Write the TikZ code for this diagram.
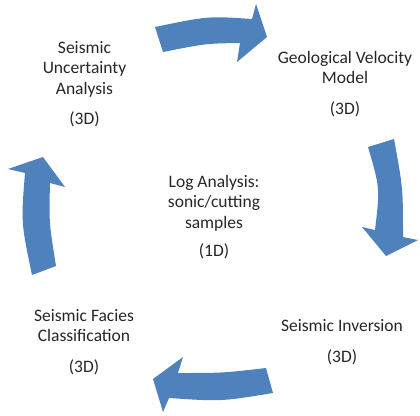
\documentclass[tikz,border=0pt]{standalone}
\usepackage{fontspec}
\setmainfont{Carlito}
\definecolor{cycleblue}{HTML}{4F81BD}
\definecolor{labelgray}{HTML}{262626}
\usepackage{tikz}

\begin{document}
\begin{tikzpicture}[x=1pt,y=-1pt,
  cyclearrow/.style={fill=cycleblue},
  stage/.style={align=center,text=labelgray,inner sep=0pt,
    font=\fontsize{17.5}{20.5}\selectfont}]
  \useasboundingbox (0,0) rectangle (420,415);

  % Arrows
  \fill[cyclearrow] (155,27) .. controls (208,16) .. (252,19) -- (256,4) -- (267,37)
    -- (237,62) -- (240,43) .. controls (206,43.5) .. (163,52) -- cycle;
  \fill[cyclearrow] (394,139) .. controls (403,188) .. (403,237) -- (418,240) -- (386,256)
    -- (362,227) -- (375,230) .. controls (380,188) .. (368,147) -- cycle;
  \fill[cyclearrow] (266,368) .. controls (223,373) .. (178,373) -- (183,357) -- (153,379)
    -- (163,412) -- (169,398) .. controls (221,401.5) .. (273,393) -- cycle;
  \fill[cyclearrow] (56,266) .. controls (49,222.5) .. (50,183) -- (65,187) -- (43,157)
    -- (8,169) -- (25,173) .. controls (21,222.5) .. (32,275) -- cycle;

  % Labels
  \node[stage] (uncertainty) at (84.5,84) {Seismic\\Uncertainty\\Analysis\\[10pt](3D)};
  \node[stage] (velocity) at (345,84) {Geological Velocity\\Model\\[10pt](3D)};
  \node[stage] (loganalysis) at (214,217) {Log Analysis:\\sonic/cutting\\samples\\[8pt](1D)};
  \node[stage] (facies) at (84,342) {Seismic Facies\\Classification\\[10pt](3D)};
  \node[stage] (inversion) at (342,342) {Seismic Inversion\\[10pt](3D)};
\end{tikzpicture}
\end{document}
